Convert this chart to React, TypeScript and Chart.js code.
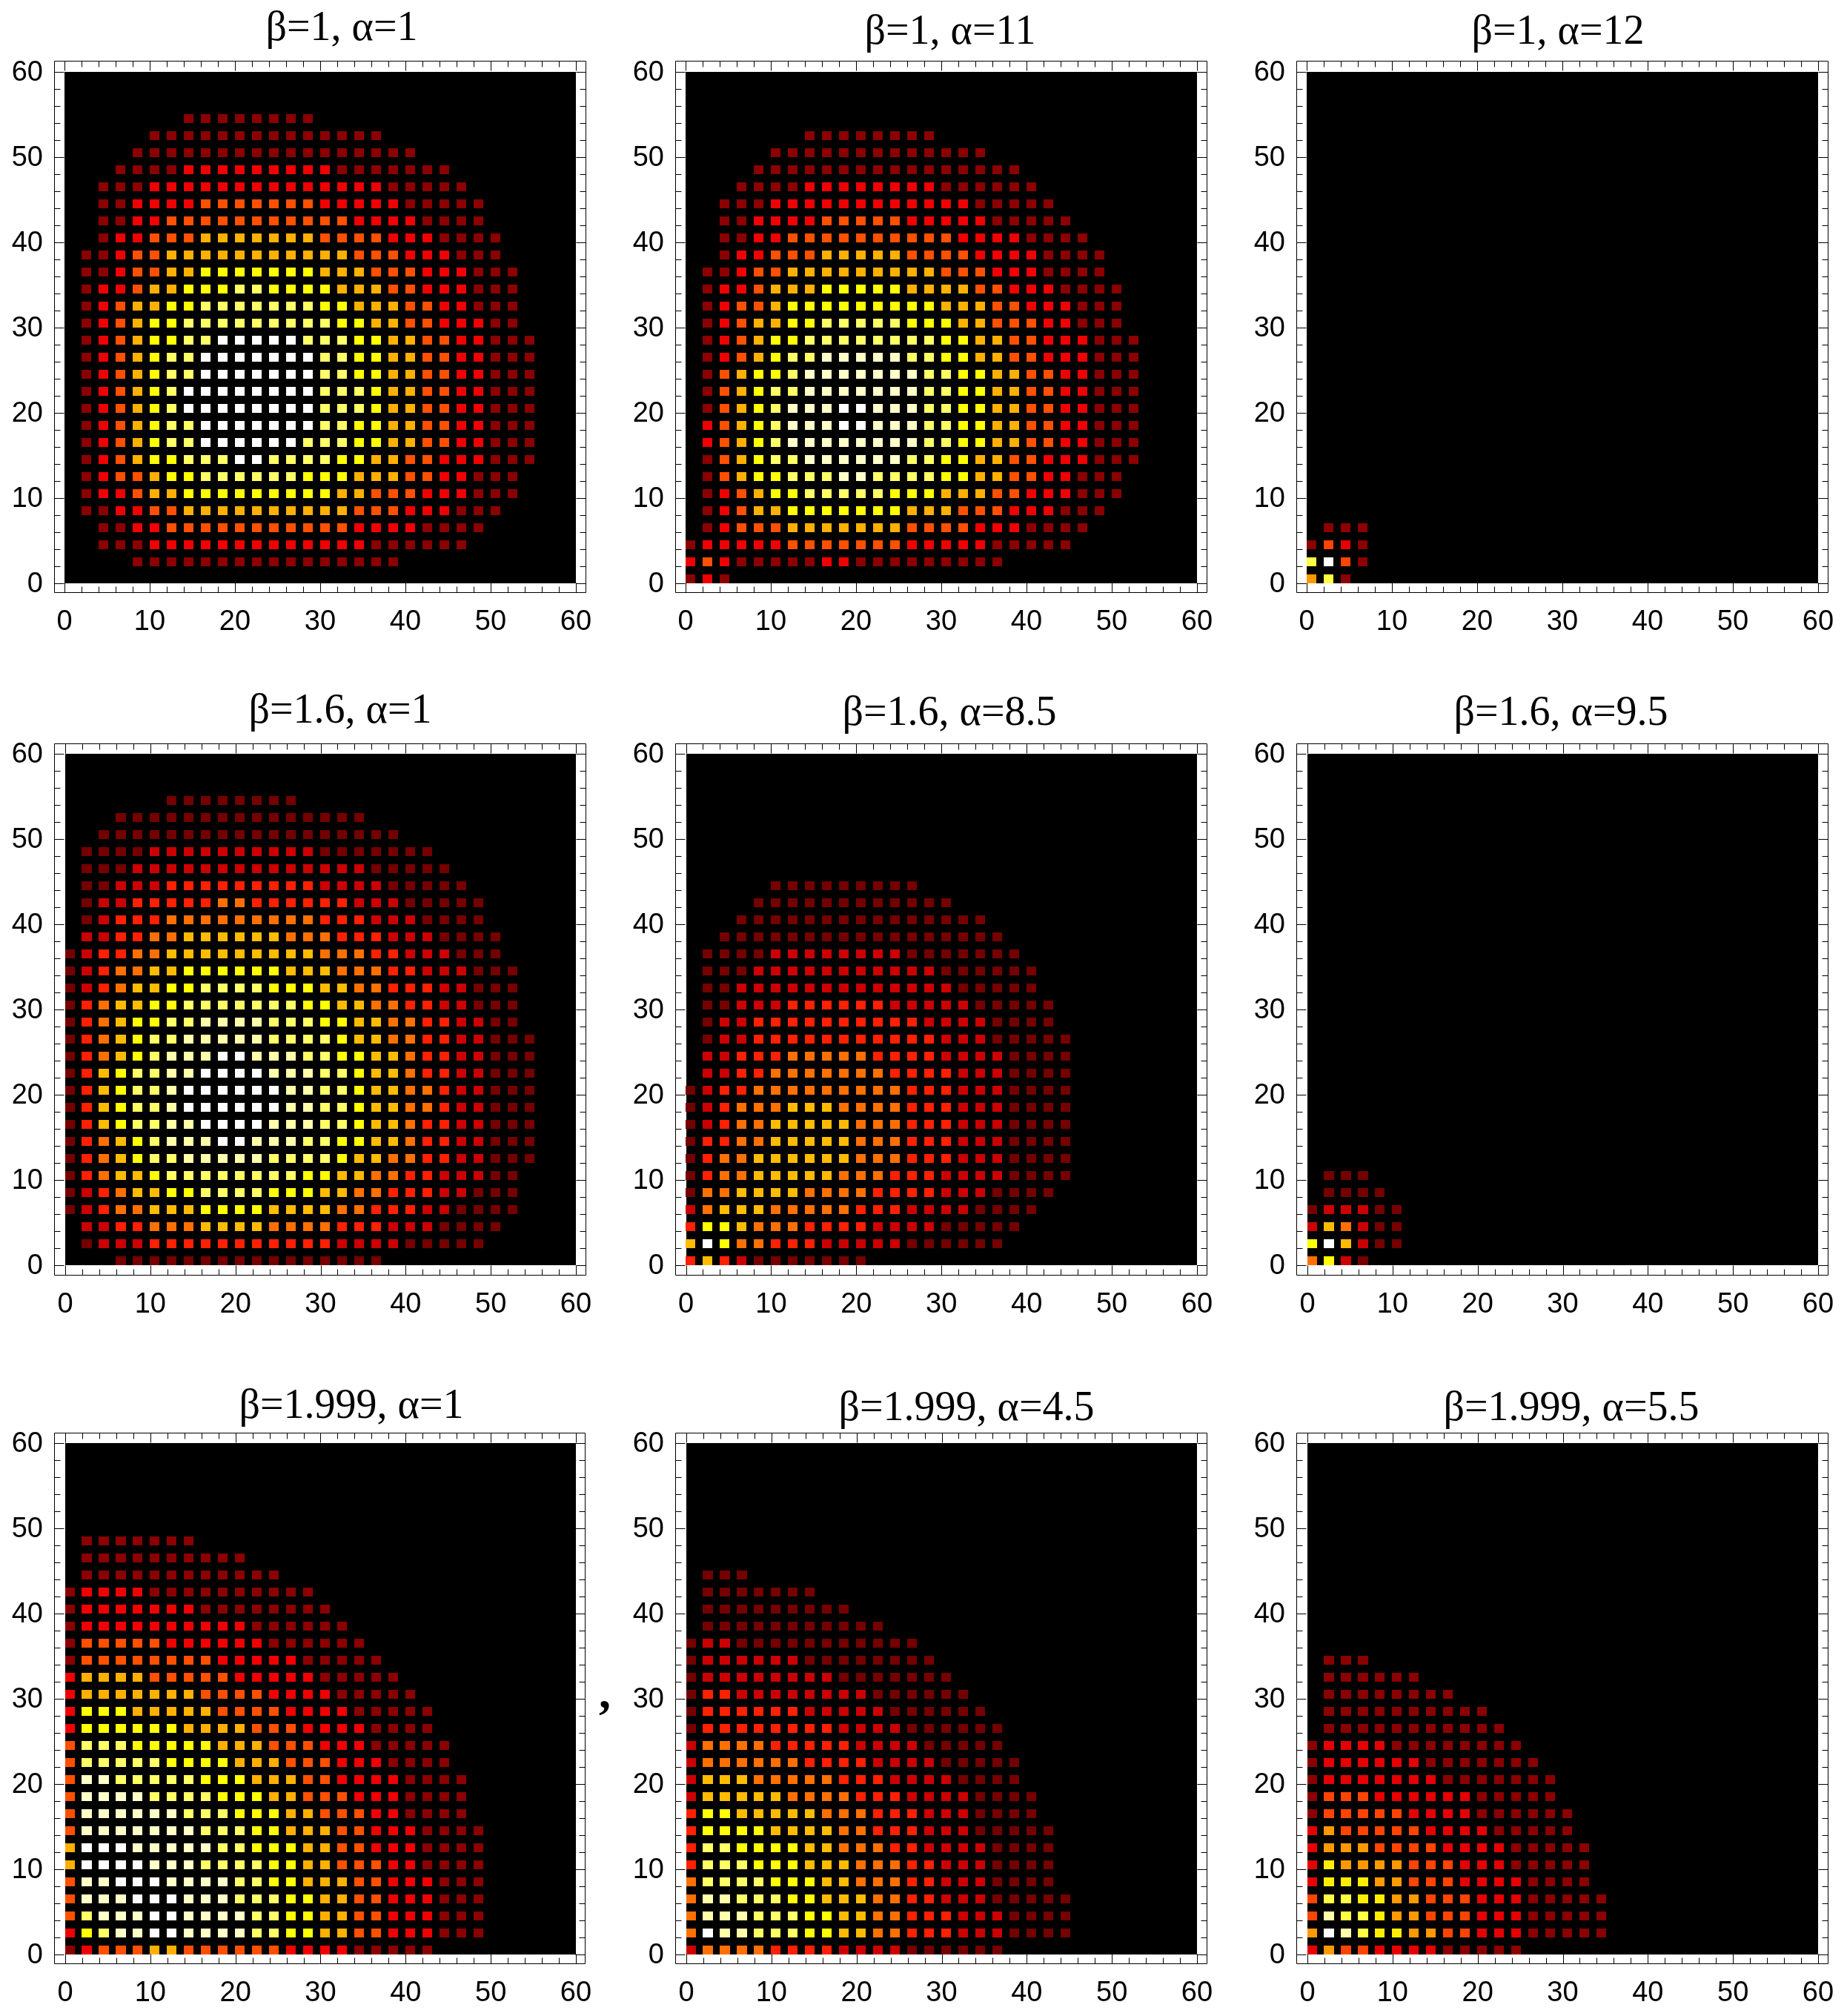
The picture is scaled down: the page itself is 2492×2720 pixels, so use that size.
import React, { useEffect, useRef } from "react";
import { Chart, registerables, ScatterController, PointElement } from "chart.js";

// ---------- Data: one string per grid row (y = 0, 2, 4 ...), one character per column (x = 0, 2, 4 ...)
// "." is an empty cell, a digit is the level of the cell. Spaces are only there for reading.
const gridBeta1Alpha1 = [
  "",
  ".... 1111111111111111",
  "..111 2222222222222 111111",
  ".. 11 22 33333333333 2222 1111",
  ". 11 22 33 4444444444 333 222 111",
  ". 1 22 3 44 555555555 44 333 222 111",
  ". 1 2 33 4 55 666666 555 444 33 22 111",
  ". 1 2 3 4 55 666 77 6666 55 44 33 222 111",
  ". 1 2 3 4 5 66 777777 666 55 44 33 22 111",
  ". 1 2 3 4 5 66 7777777 66 55 44 33 22 111",
  ". 1 2 3 4 5 6 77777777 666 5 44 33 22 111",
  ". 1 2 3 4 5 6 77777777 666 5 44 33 22 111",
  ". 1 2 3 4 5 66 7777777 66 55 44 33 22 111",
  ". 1 2 3 4 5 66 7777777 66 55 44 33 22 111",
  ". 1 2 3 4 55 66 77777 666 55 44 33 22 111",
  ". 1 2 3 4 55 666666666 55 44 33 222 11",
  ". 1 2 3 44 55 6666666 55 444 33 22 111",
  ". 1 22 3 44 555 66 5555 444 33 222 111",
  ". 11 2 33 44 5555555 444 333 222 111",
  ". 11 2 33 44444444444 333 222 111",
  ".. 1 22 333 4444444 3333 222 1111",
  ".. 11 22 33333333333 2222 1111",
  ".. 11 2222 3333333 22222 11111",
  ".. 111 22222222222222 11111",
  "... 1111 222222222 1111111",
  ".... 11111111111111111",
  "..... 11111111111111",
  "....... 11111111",
];
const gridBeta1Alpha11 = [
  "1 2 1",
  "2 3 2 11111 22 111111111",
  "1 22222 3333333 22222 11111",
  ". 1 2 333 4444444 3333 222 1111",
  ". 1 2 3 44 5555555 444 333 222 111",
  ". 1 2 3 4 55 66666 555 444 33 222 111",
  ". 1 3 4 55 666 77 6666 55 44 33 22 111",
  ". 1 3 4 5 66 777777 66 55 44 33 222 111",
  ". 2 3 4 5 6 77777777 66 55 44 33 22 111",
  ". 2 3 4 5 6 777 88 777 66 55 44 33 22 111",
  ". 1 3 4 5 6 777 88 777 66 55 44 33 22 111",
  ". 1 3 4 5 66 7777777 66 55 44 33 22 111",
  ". 1 3 4 55 6 7777777 66 55 44 33 22 111",
  ". 1 2 3 4 5 66 77777 66 55 44 33 222 111",
  ". 1 2 3 4 55 66666666 55 44 33 222 111",
  ". 1 2 3 44 55 66666 555 44 333 22 111",
  ". 1 2 33 4 555555555 444 33 222 111",
  ". 1 22 3 444 55555 4444 33 222 1111",
  ". 11 2 33 444444444 333 222 1111",
  ".. 1 22 333 44444 3333 2222 1111",
  ".. 11 22 3333333333 2222 1111",
  ".. 11 2222 33333 22222 11111",
  ".. 111 222222222222 11111",
  "... 1111 22222222 111111",
  ".... 1111111111111111",
  "..... 1111111111111",
  "....... 11111111",
];
const gridBeta1Alpha12 = ["4 6 1", "6 8 3 1", "1 3 2 1", ". 111"];
const gridBeta16Alpha1 = [
  "... 1111111111111111",
  ". 1 222 33333333333 2222 11111",
  ". 22 33 444 5555 4444 333 222 1111",
  "1 2 3 44 555 6666 5555 44 333 22 1111",
  "1 2 3 4 55 66 7777 666 55 44 333 22 111",
  "1 3 4 55 6 77777777 66 55 44 33 222 11",
  "1 3 4 5 6 77 88888 7777 6 55 44 33 22 111",
  "1 3 4 5 6 7 888 99 888 77 66 55 4 33 22 111",
  "1 3 5 6 77 88 9999 888 77 6 55 4 33 22 111",
  "1 3 5 6 77 8 999999 88 77 6 55 44 3 22 111",
  "1 3 5 6 77 8 999999 88 77 6 55 44 3 22 111",
  "1 3 5 6 77 88 9999 888 77 6 55 4 33 22 111",
  "1 3 4 5 6 7 888 99 888 77 66 55 4 33 22 111",
  "1 3 4 5 6 77 88888 7777 6 55 44 33 22 111",
  "1 3 4 5 66 77 8888 777 66 55 44 33 22 11",
  "1 3 4 55 66 7777777 66 55 44 33 22 111",
  "1 2 3 4 55 66 7777 666 55 44 333 22 111",
  "1 2 3 44 55 666666 555 444 33 222 111",
  "1 2 33 44 555555555 444 33 222 111",
  ". 22 33 44 555555 444 333 222 1111",
  ". 1 2 333 444444444 333 222 1111",
  ". 1 22 33333 44 333333 222 11111",
  ". 11 222 333333333 2222 11111",
  ". 111 22222222222222 11111",
  ". 1111 2222222222 1111111",
  ".. 111111111111111111",
  "... 111111111111111",
  "...... 11111111",
];
const gridBeta16Alpha85 = [
  "3 5 3 2 1111111",
  "5 9 6 44 333 22222 111111",
  "3 66 5 444 3333 2222 11111",
  "2 4 555 44444 333 2222 1111",
  "1 44 5555 4444 3333 222 1111",
  "1 3 44 55555 444 333 2222 1111",
  "1 3 44 555555 444 333 222 1111",
  "1 33 44 55555 444 333 222 1111",
  "1 2 3 44 55555 444 333 222 1111",
  "1 2 3 444 555 4444 333 222 1111",
  "1 2 33 444444444 333 222 1111",
  ". 22 33 4444444 3333 222 1111",
  ". 22 333 44444 3333 2222 1111",
  ". 1 22 33333333333 222 11111",
  ". 1 22 3333333333 2222 1111",
  ". 11 222 333333 22222 11111",
  ". 11 2222222222222 11111",
  ". 111 22222222222 111111",
  ". 1111 22222222 1111111",
  ".. 11111111111111111",
  "... 111111111111111",
  ".... 111111111111",
  "..... 111111111",
];
const gridBeta16Alpha95 = ["4 6 2 1", "6 9 5 2 1 1", "2 5 4 2 1 1", "1 2 2 2 1 1", ". 1 1 1 1", ". 1 1 1"];
const gridBeta1999Alpha1 = [
  "1 2 333 44 333333 2222 11111",
  "2 5 6 77 88 7777 66 55 44 33 222 111",
  "3 6 777 88 7777 66 55 44 33 222 111",
  "3 777 888 777 666 55 44 33 222 111",
  "3 77 888 7777 66 55 444 33 222 111",
  "4 8888 777 6666 55 44 333 22 1111",
  "4 888 77777 66 555 44 33 222 1111",
  "3 7777777 666 55 444 33 222 1111",
  "3 777777 666 555 44 333 22 1111",
  "3 7777 6666 555 44 333 222 1111",
  "3 77 66666 555 444 33 2222 1111",
  "3 66666 5555 444 333 222 1111",
  "3 666 55555 444 333 222 11111",
  "2 555555 4444 333 2222 1111",
  "2 555 44444 3333 2222 11111",
  "2 4444444 3333 2222 11111",
  "2 4444 33333 22222 11111",
  "1 33333333 22222 11111",
  "1 33333 222222 111111",
  "1 2222222222 111111",
  "1 2222222 11111111",
  "1 2222 1111111111",
  ". 111111111111",
  ". 1111111111",
  ". 1111111",
];
const gridBeta1999Alpha45 = [
  "2 4444 3333 2222 111111",
  "4 9 88 777 66 55 44 333 222 1111",
  "4 888 777 66 55 44 333 222 1111",
  "4 88 777 66 555 44 33 222 11111",
  "4 7777 666 55 444 33 222 1111",
  "3 777 666 555 444 33 222 1111",
  "3 77 6666 55 444 33 2222 1111",
  "3 6666 5555 44 333 222 11111",
  "3 66 55555 444 333 222 1111",
  "2 55555 4444 333 2222 1111",
  "2 555 44444 333 2222 1111",
  "2 444444 3333 2222 11111",
  "2 4444 33333 2222 11111",
  "1 33333333 2222 111111",
  "1 333333 22222 111111",
  "1 33 22222222 111111",
  "1 22222222 1111111",
  "1 222222 11111111",
  "1 22 11111111111",
  ". 11111111111",
  ". 111111111",
  ". 1111111",
  ". 111",
];
const gridBeta1999Alpha55 = [
  "2 4 33 2222 11111",
  "4 8 7 6 55 44 33 222 11111",
  "3 7 66 5 44 333 222 11111",
  "3 66 55 44 333 222 11111",
  "2 555 44 333 2222 1111",
  "2 5 4444 333 222 11111",
  "2 444 3333 2222 11111",
  "2 4 33333 2222 11111",
  "1 33333 2222 111111",
  "1 333 222222 11111",
  "1 2222222 1111111",
  "1 222222 1111111",
  "1 2222 11111111",
  ". 11111111111",
  ". 1111111111",
  ". 11111111",
  ". 111111",
  ". 111",
];

const axisTicks = [0, 2, 4, 6, 8, 10, 12, 14, 16, 18, 20, 22, 24, 26, 28, 30, 32, 34, 36, 38, 40, 42, 44, 46, 48, 50, 52, 54, 56, 58, 60];
const labelledTicks = [0, 10, 20, 30, 40, 50, 60];
const titles = [
  "β=1, α=1", "β=1, α=11", "β=1, α=12",
  "β=1.6, α=1", "β=1.6, α=8.5", "β=1.6, α=9.5",
  "β=1.999, α=1", "β=1.999, α=4.5", "β=1.999, α=5.5",
];
const grids = [
  gridBeta1Alpha1, gridBeta1Alpha11, gridBeta1Alpha12,
  gridBeta16Alpha1, gridBeta16Alpha85, gridBeta16Alpha95,
  gridBeta1999Alpha1, gridBeta1999Alpha45, gridBeta1999Alpha55,
];

const hotSeven = ["#8b0000", "#f00000", "#ff5000", "#ffb000", "#ffff00", "#ffff66", "#ffffff"];
const hotEight = ["#8b0000", "#f00000", "#ff5000", "#ffb000", "#ffff00", "#ffff66", "#ffffc8", "#ffffff"];
const hotNine = ["#750000", "#cc0000", "#ff2000", "#ff7000", "#ffbb00", "#ffff00", "#ffff66", "#ffffaa", "#ffffff"];
const hotWarm = ["#8b0000", "#e60000", "#ff4400", "#ff9900", "#ffee00", "#ffff44", "#ffffaa", "#ffffff"];
const palettes = [hotSeven, hotEight, hotWarm, hotNine, hotNine, hotNine, hotEight, hotNine, hotWarm];

// ---------- Layout (page pixels)
const frameLefts = [73, 911, 1749, 73, 911, 1749, 73, 911, 1749];
const frameRights = [791, 1629, 2467, 791, 1629, 2467, 790, 1629, 2467];
const plotLefts = [87, 925, 1763, 88, 925.5, 1764, 88, 926, 1764];
const plotRights = [777, 1615, 2453, 777, 1615, 2453, 777, 1615, 2453];
const frameTops = [82, 82, 82, 1003, 1003, 1003, 1933, 1933, 1933];
const frameBottoms = [800, 800, 800, 1721, 1721, 1721, 2650, 2650, 2650];
const plotTops = [97, 97, 97, 1017, 1017, 1017, 1947, 1947, 1947];
const plotBottoms = [787, 787, 787, 1707, 1707, 1707, 2637, 2637, 2637];
const titleCentres = [461, 1282, 2102, 459, 1281, 2106, 474, 1304, 2120];
const titleLifts = [24.7, 20, 20, 24.5, 21.7, 21.7, 16.7, 14, 14];
const titleBoxHeight = 80;
const xLabelBoxHeight = 70;
const titleSize = 56;

const CELL_UNITS = 1.1;

class CellPoint extends PointElement {
  static id = "cellPoint";
  draw(ctx: CanvasRenderingContext2D) {
    const halfW = (this as any).options.radius;
    const halfH = (this as any).options.hitRadius;
    const left = Math.floor(this.x - halfW + 0.01);
    const right = Math.round(this.x + halfW);
    const top = Math.round(this.y - halfH);
    const bottom = Math.round(this.y + halfH);
    ctx.fillStyle = (this as any).options.backgroundColor;
    ctx.fillRect(left, top, right - left, bottom - top);
  }
}

class CellScatterController extends ScatterController {
  static id = "cellScatter";
  static defaults = { ...ScatterController.defaults, dataElementType: "cellPoint" };
}

Chart.register(...registerables, CellPoint, CellScatterController);

const panelDecor = {
  id: "panelDecor",
  beforeDatasetsDraw(chart: any) {
    const { ctx, scales } = chart;
    const x0 = Math.round(scales.x.getPixelForValue(0));
    const x1 = Math.round(scales.x.getPixelForValue(60));
    const y0 = Math.round(scales.y.getPixelForValue(0));
    const y1 = Math.round(scales.y.getPixelForValue(60));
    ctx.save();
    ctx.fillStyle = "#000000";
    ctx.fillRect(x0, y1, x1 - x0, y0 - y1);
    ctx.restore();
  },
  afterDatasetsDraw(chart: any) {
    const { ctx, scales, chartArea } = chart;
    const l = Math.round(chartArea.left) + 0.5;
    const r = Math.round(chartArea.right) - 0.5;
    const t = Math.round(chartArea.top) + 0.5;
    const b = Math.round(chartArea.bottom) - 0.5;
    ctx.save();
    ctx.strokeStyle = "#000000";
    ctx.lineWidth = 1;
    ctx.beginPath();
    ctx.rect(l, t, r - l, b - t);
    for (const v of axisTicks) {
      const len = labelledTicks.includes(v) ? 13 : 8;
      const px = Math.round(scales.x.getPixelForValue(v)) + 0.5;
      ctx.moveTo(px, b); ctx.lineTo(px, b - len);
      ctx.moveTo(px, t); ctx.lineTo(px, t + len);
      const py = Math.round(scales.y.getPixelForValue(v)) + 0.5;
      ctx.moveTo(l, py); ctx.lineTo(l + len, py);
      ctx.moveTo(r, py); ctx.lineTo(r - len, py);
    }
    ctx.stroke();
    ctx.restore();
  },
};

function cellsOf(grid: string[], palette: string[]) {
  const points: { x: number; y: number }[] = [];
  const colors: string[] = [];
  grid.forEach((row, j) => {
    row.replace(/\s/g, "").split("").forEach((ch, k) => {
      if (ch === ".") return;
      points.push({ x: k * 2 + CELL_UNITS / 2, y: j * 2 + 0.5 });
      colors.push(palette[Number(ch) - 1]);
    });
  });
  return { points, colors };
}

function geometry(i: number) {
  const halfW = Math.ceil(Math.max(titleCentres[i] - (frameLefts[i] - 70), frameRights[i] + 30 - titleCentres[i]));
  const left = titleCentres[i] - halfW;
  const top = frameTops[i] - titleBoxHeight;
  const height = titleBoxHeight + (frameBottoms[i] - frameTops[i]) + xLabelBoxHeight;
  return { left, top, width: halfW * 2, height };
}

function Panel({ index }: { index: number }) {
  const ref = useRef<HTMLCanvasElement | null>(null);
  const g = geometry(index);
  useEffect(() => {
    const uX = (plotRights[index] - plotLefts[index]) / 60;
    const uY = (plotBottoms[index] - plotTops[index]) / 60;
    const { points, colors } = cellsOf(grids[index], palettes[index]);
    const padTop = 35 - titleLifts[index] - 1;
    const setTicks = (scale: any) => {
      scale.ticks = axisTicks.map((v) => ({ value: v }));
    };
    const tickText = (v: any) => (labelledTicks.includes(Number(v)) ? String(v) : "");
    const tickFont = { family: "'Liberation Sans'", size: 38 };
    const chart = new Chart(ref.current as HTMLCanvasElement, {
      type: "cellScatter" as any,
      data: {
        datasets: [{
          data: points,
          backgroundColor: colors,
          radius: (CELL_UNITS * uX) / 2,
          hitRadius: (1.05 * uY) / 2,
          borderWidth: 0,
        } as any],
      },
      plugins: [panelDecor],
      options: {
        animation: false,
        responsive: false,
        devicePixelRatio: 1,
        events: [],
        layout: { autoPadding: false, padding: 0 },
        plugins: {
          legend: { display: false },
          tooltip: { enabled: false },
          title: {
            display: true,
            text: titles[index],
            color: "#000000",
            font: { family: "'Liberation Serif'", size: titleSize, weight: "normal", lineHeight: 1 },
            padding: { top: padTop, bottom: titleBoxHeight - titleSize - padTop },
          },
        },
        scales: {
          x: {
            type: "linear",
            position: "bottom",
            min: -(plotLefts[index] - frameLefts[index]) / uX,
            max: 60 + (frameRights[index] - plotRights[index]) / uX,
            grid: { display: false },
            border: { display: false },
            afterBuildTicks: setTicks,
            afterFit: (s: any) => { s.height = xLabelBoxHeight; },
            ticks: { callback: tickText, autoSkip: false, maxRotation: 0, minRotation: 0, padding: 9, color: "#000000", font: tickFont },
          },
          y: {
            type: "linear",
            position: "left",
            min: -(frameBottoms[index] - plotBottoms[index]) / uY,
            max: 60 + (plotTops[index] - frameTops[index]) / uY,
            grid: { display: false },
            border: { display: false },
            afterBuildTicks: setTicks,
            afterFit: (s: any) => { s.width = frameLefts[index] - g.left; },
            ticks: { callback: tickText, autoSkip: false, padding: 7, labelOffset: 2, color: "#000000", font: tickFont },
          },
          rightSpace: {
            type: "linear",
            position: "right",
            min: 0,
            max: 1,
            grid: { display: false },
            border: { display: false },
            afterFit: (s: any) => { s.width = g.left + g.width - frameRights[index]; },
            ticks: { display: false },
          },
        },
      } as any,
    });
    return () => chart.destroy();
  }, [index]);
  return (
    <canvas
      ref={ref}
      width={g.width}
      height={g.height}
      style={{ position: "absolute", left: g.left, top: g.top, width: g.width, height: g.height, display: "block" }}
    />
  );
}

export default function App() {
  return (
    <div style={{ position: "absolute", left: 0, top: 0, width: 2492, height: 2720, background: "#ffffff", overflow: "hidden" }}>
      {titles.map((_, i) => <Panel key={i} index={i} />)}
      <div style={{ position: "absolute", left: 808, top: 2251, fontFamily: "'Liberation Serif'", fontWeight: "bold", fontSize: 64, lineHeight: 1, color: "#000000" }}>,</div>
    </div>
  );
}
